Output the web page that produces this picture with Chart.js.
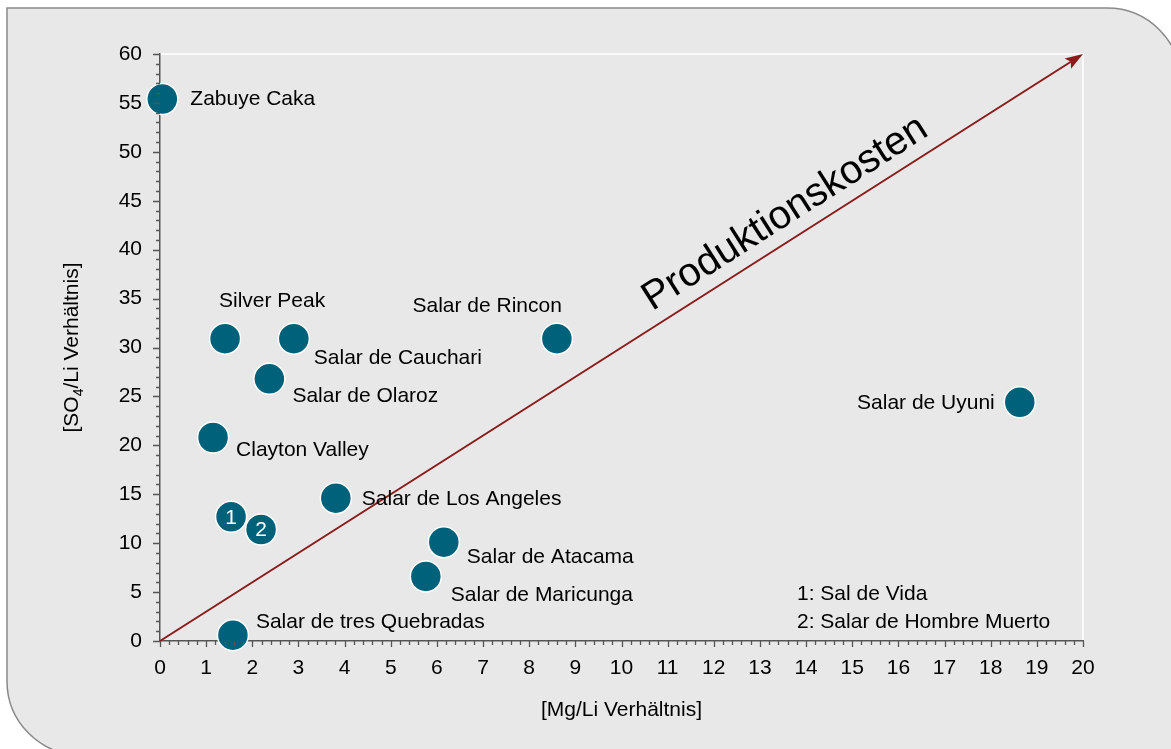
<!DOCTYPE html>
<html>
<head>
<meta charset="utf-8">
<script src="https://cdn.jsdelivr.net/npm/chart.js@4.4.1/dist/chart.umd.min.js"></script>
<style>
  html, body { margin: 0; padding: 0; background: #fff; overflow: hidden; }
</style>
</head>
<body>
<canvas id="chart" width="1171" height="749"></canvas>
<script>
// Daten: Mg/Li- und SO4/Li-Verhältnis der Salare
const names = [
  "Zabuye Caka", "Silver Peak", "Salar de Cauchari", "Salar de Olaroz",
  "Clayton Valley", "Sal de Vida", "Salar de Hombre Muerto", "Salar de Los Angeles",
  "Salar de Rincon", "Salar de Atacama", "Salar de Maricunga",
  "Salar de tres Quebradas", "Salar de Uyuni"
];
const mgLi = [0.05, 1.41, 2.9, 2.37, 1.15, 1.54, 2.19, 3.81, 8.6, 6.15, 5.76, 1.58, 18.63];
const so4Li = [55.4, 30.9, 30.9, 26.8, 20.8, 12.7, 11.4, 14.6, 30.9, 10.1, 6.6, 0.6, 24.4];
// Nummer im Kreis (nur für 1 und 2)
const markerText = ["", "", "", "", "", "1", "2", "", "", "", "", "", ""];
// Beschriftung neben dem Punkt: [dx, dy, Ausrichtung]
const labelPlace = [
  [28, 0, "left"], [47, -37, "center"], [20, 20, "left"], [23, 17, "left"],
  [23, 13, "left"], null, null, [26, 1, "left"],
  [5, -32, "right"], [23, 15, "left"], [25, 19, "left"],
  [23, -13, "left"], [-25, 1, "right"]
];
const noteLines = ["1: Sal de Vida", "2: Salar de Hombre Muerto"];
const arrowFrom = { x: 0, y: 0 };
const arrowTo = { x: 20, y: 60 };

const FONT = '"Liberation Sans", Arial, sans-serif';
const points = mgLi.map((x, i) => ({ x: x, y: so4Li[i] }));

// Hintergrund mit abgerundeten Ecken
const framePlugin = {
  id: "frame",
  beforeDraw(chart) {
    const ctx = chart.ctx;
    const a = chart.chartArea;
    const l = 7, t = 8, r = 1181, b = 755, R = 74;
    ctx.save();
    ctx.beginPath();
    ctx.moveTo(l, t);
    ctx.lineTo(r - R, t);
    ctx.arcTo(r, t, r, t + R, R);
    ctx.lineTo(r, b);
    ctx.lineTo(l + R, b);
    ctx.arcTo(l, b, l, b - R, R);
    ctx.closePath();
    ctx.fillStyle = "#e8e8e8";
    ctx.fill();
    ctx.lineWidth = 1.5;
    ctx.strokeStyle = "#8a8a8a";
    ctx.stroke();
    // weiße Linien oben und rechts
    ctx.beginPath();
    ctx.moveTo(a.left, a.top);
    ctx.lineTo(a.right, a.top);
    ctx.lineTo(a.right, a.bottom);
    ctx.strokeStyle = "#ffffff";
    ctx.lineWidth = 1.5;
    ctx.stroke();
    ctx.restore();
  },
  beforeDatasetsDraw(chart) {
    // Pfeil "Produktionskosten"
    const ctx = chart.ctx;
    const xs = chart.scales.x, ys = chart.scales.y;
    const x0 = xs.getPixelForValue(arrowFrom.x), y0 = ys.getPixelForValue(arrowFrom.y);
    const x1 = xs.getPixelForValue(arrowTo.x), y1 = ys.getPixelForValue(arrowTo.y);
    const ang = Math.atan2(y1 - y0, x1 - x0);
    const len = 18, hw = 6;
    ctx.save();
    ctx.strokeStyle = "#8b1a1a";
    ctx.fillStyle = "#8b1a1a";
    ctx.lineWidth = 2;
    ctx.beginPath();
    ctx.moveTo(x0, y0);
    ctx.lineTo(x1 - Math.cos(ang) * len * 0.8, y1 - Math.sin(ang) * len * 0.8);
    ctx.stroke();
    ctx.beginPath();
    ctx.moveTo(x1, y1);
    ctx.lineTo(x1 - Math.cos(ang) * len + Math.sin(ang) * hw, y1 - Math.sin(ang) * len - Math.cos(ang) * hw);
    ctx.lineTo(x1 - Math.cos(ang) * len * 0.8, y1 - Math.sin(ang) * len * 0.8);
    ctx.lineTo(x1 - Math.cos(ang) * len - Math.sin(ang) * hw, y1 - Math.sin(ang) * len + Math.cos(ang) * hw);
    ctx.closePath();
    ctx.fill();

    // Text entlang des Pfeils
    const tt = 0.692, off = 14;
    const fx = x0 + (x1 - x0) * tt, fy = y0 + (y1 - y0) * tt;
    const cx = fx + Math.sin(ang) * off, cy = fy - Math.cos(ang) * off;
    ctx.translate(cx, cy);
    ctx.rotate(ang);
    ctx.fillStyle = "#000";
    ctx.font = "40px " + FONT;
    ctx.textAlign = "center";
    ctx.textBaseline = "alphabetic";
    ctx.fillText("Produktionskosten", 0, 0);
    ctx.restore();
  },
  afterDatasetsDraw(chart) {
    const ctx = chart.ctx;
    const meta = chart.getDatasetMeta(0);
    ctx.save();
    ctx.font = "21px " + FONT;
    ctx.textBaseline = "middle";
    meta.data.forEach((el, i) => {
      const p = labelPlace[i];
      if (p) {
        ctx.fillStyle = "#000";
        ctx.textAlign = p[2];
        ctx.fillText(names[i], el.x + p[0], el.y + p[1]);
      }
      if (markerText[i]) {
        ctx.fillStyle = "#fff";
        ctx.textAlign = "center";
        ctx.fillText(markerText[i], el.x, el.y + 1);
      }
    });
    // Legende für 1 und 2
    ctx.fillStyle = "#000";
    ctx.textAlign = "left";
    ctx.fillText(noteLines[0], 797, 594);
    ctx.fillText(noteLines[1], 797, 622);
    ctx.restore();
  },
  afterDraw(chart) {
    const ctx = chart.ctx;
    const xs = chart.scales.x, ys = chart.scales.y;
    const a = chart.chartArea;
    ctx.save();
    ctx.strokeStyle = "#555";
    ctx.lineWidth = 1.3;
    ctx.beginPath();
    // Teilstriche x (alle 0.2)
    for (let i = 0; i <= 100; i++) {
      const px = Math.round(xs.getPixelForValue(i / 5)) + 0.5;
      const l = i % 5 === 0 ? 6 : 4;
      ctx.moveTo(px, a.bottom);
      ctx.lineTo(px, a.bottom + l);
    }
    // Teilstriche y (alle 1)
    for (let i = 0; i <= 60; i++) {
      const py = Math.round(ys.getPixelForValue(i)) + 0.5;
      const l = i % 5 === 0 ? 7 : 4;
      ctx.moveTo(a.left, py);
      ctx.lineTo(a.left - l, py);
    }
    ctx.stroke();

    // Achsentitel
    ctx.fillStyle = "#000";
    ctx.font = "21px " + FONT;
    ctx.textAlign = "center";
    ctx.textBaseline = "middle";
    ctx.fillText("[Mg/Li Verhältnis]", (a.left + a.right) / 2, 710);

    ctx.translate(72, (a.top + a.bottom) / 2);
    ctx.rotate(-Math.PI / 2);
    ctx.textAlign = "left";
    ctx.textBaseline = "middle";
    const p1 = "[SO", p2 = "4", p3 = "/Li Verhältnis]";
    ctx.font = "21px " + FONT;
    const w1 = ctx.measureText(p1).width, w3 = ctx.measureText(p3).width;
    ctx.font = "14px " + FONT;
    const w2 = ctx.measureText(p2).width;
    let sx = -(w1 + w2 + w3) / 2;
    ctx.font = "21px " + FONT;
    ctx.fillText(p1, sx, 0);
    ctx.font = "14px " + FONT;
    ctx.fillText(p2, sx + w1, 7);
    ctx.font = "21px " + FONT;
    ctx.fillText(p3, sx + w1 + w2, 0);
    ctx.restore();
  }
};

new Chart(document.getElementById("chart"), {
  type: "scatter",
  data: {
    datasets: [{
      data: points,
      backgroundColor: "#00617a",
      borderColor: "#ffffff",
      borderWidth: 1.5,
      pointRadius: 15.5,
      pointHoverRadius: 15.5,
      clip: false
    }]
  },
  options: {
    responsive: false,
    animation: false,
    events: [],
    layout: { padding: { left: 100, top: 54, right: 88, bottom: 60 } },
    plugins: { legend: { display: false }, tooltip: { enabled: false } },
    scales: {
      x: {
        type: "linear",
        min: 0, max: 20,
        ticks: { stepSize: 1, color: "#000", padding: 15, font: { size: 21, family: FONT } },
        grid: { drawOnChartArea: false, drawTicks: false },
        border: { color: "#555", width: 1.5 },
        afterFit(s) { s.height = 48; }
      },
      y: {
        min: 0, max: 60,
        ticks: { stepSize: 5, color: "#000", padding: 18, font: { size: 21, family: FONT } },
        grid: { drawOnChartArea: false, drawTicks: false },
        border: { color: "#555", width: 1.5 },
        afterFit(s) { s.width = 60; }
      }
    }
  },
  plugins: [framePlugin]
});
</script>
</body>
</html>
